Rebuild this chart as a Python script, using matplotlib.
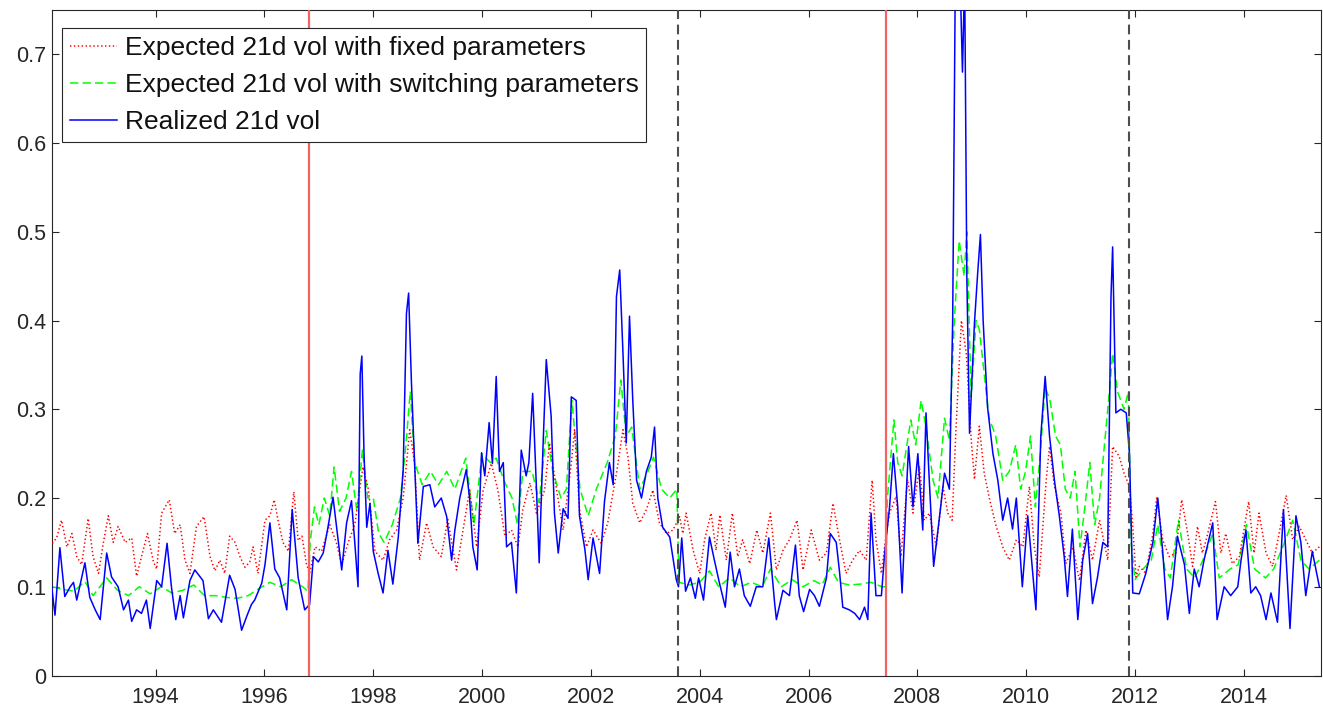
import numpy as np
import matplotlib
matplotlib.use('Agg')
import matplotlib.pyplot as plt

plt.rcParams['font.family'] = ['Liberation Sans', 'DejaVu Sans']
plt.rcParams['lines.scale_dashes'] = False

# realized 21d vol (decimal year, vol)
realized_t = [
    1992.09, 1992.15, 1992.24, 1992.33, 1992.43, 1992.49, 1992.55, 1992.70, 1992.79, 1992.89,
    1992.98, 1993.10, 1993.19, 1993.31, 1993.41, 1993.50, 1993.56, 1993.65, 1993.74, 1993.83,
    1993.90, 1994.02, 1994.11, 1994.21, 1994.29, 1994.37, 1994.45, 1994.51, 1994.63, 1994.72,
    1994.87, 1994.97, 1995.06, 1995.21, 1995.36, 1995.46, 1995.58, 1995.67, 1995.76, 1995.82,
    1995.95, 1996.01, 1996.10, 1996.19, 1996.28, 1996.41, 1996.51, 1996.62, 1996.74, 1996.83,
    1996.90, 1996.99, 1997.08, 1997.17, 1997.26, 1997.35, 1997.42, 1997.51, 1997.60, 1997.66,
    1997.72, 1997.76, 1997.79, 1997.83, 1997.88, 1997.94, 1998.00, 1998.09, 1998.18, 1998.27,
    1998.36, 1998.46, 1998.55, 1998.61, 1998.65, 1998.70, 1998.76, 1998.82, 1998.92, 1999.04,
    1999.13, 1999.25, 1999.35, 1999.44, 1999.50, 1999.59, 1999.71, 1999.77, 1999.83, 1999.91,
    1999.99, 2000.05, 2000.13, 2000.19, 2000.26, 2000.32, 2000.39, 2000.45, 2000.54, 2000.63,
    2000.72, 2000.81, 2000.86, 2000.93, 2001.00, 2001.05, 2001.12, 2001.18, 2001.27, 2001.33,
    2001.40, 2001.49, 2001.58, 2001.64, 2001.73, 2001.79, 2001.89, 2001.95, 2002.04, 2002.16,
    2002.25, 2002.34, 2002.41, 2002.47, 2002.53, 2002.59, 2002.65, 2002.71, 2002.77, 2002.84,
    2002.93, 2003.02, 2003.11, 2003.17, 2003.23, 2003.32, 2003.45, 2003.57, 2003.61, 2003.67,
    2003.74, 2003.83, 2003.92, 2003.98, 2004.07, 2004.18, 2004.27, 2004.36, 2004.47, 2004.56,
    2004.64, 2004.73, 2004.82, 2004.93, 2005.04, 2005.16, 2005.27, 2005.38, 2005.41, 2005.53,
    2005.65, 2005.76, 2005.83, 2005.91, 2006.02, 2006.11, 2006.20, 2006.33, 2006.40, 2006.51,
    2006.57, 2006.63, 2006.75, 2006.85, 2006.94, 2007.03, 2007.09, 2007.15, 2007.24, 2007.34,
    2007.40, 2007.49, 2007.56, 2007.64, 2007.72, 2007.80, 2007.84, 2007.92, 2008.01, 2008.10,
    2008.16, 2008.22, 2008.30, 2008.41, 2008.50, 2008.59, 2008.65, 2008.70, 2008.76, 2008.83,
    2008.87, 2008.91, 2008.96, 2009.05, 2009.11, 2009.16, 2009.21, 2009.29, 2009.39, 2009.48,
    2009.57, 2009.66, 2009.75, 2009.82, 2009.93, 2010.03, 2010.18, 2010.27, 2010.35, 2010.43,
    2010.52, 2010.61, 2010.70, 2010.76, 2010.85, 2010.95, 2011.04, 2011.13, 2011.22, 2011.31,
    2011.41, 2011.50, 2011.56, 2011.59, 2011.65, 2011.74, 2011.84, 2011.90, 2011.96, 2012.08,
    2012.20, 2012.33, 2012.42, 2012.51, 2012.60, 2012.69, 2012.78, 2012.91, 2013.00, 2013.09,
    2013.18, 2013.27, 2013.43, 2013.51, 2013.64, 2013.76, 2013.89, 2013.95, 2014.04, 2014.13,
    2014.22, 2014.31, 2014.41, 2014.50, 2014.62, 2014.73, 2014.85, 2014.96, 2015.05, 2015.14,
    2015.26, 2015.39,
]
realized_v = [
    0.100, 0.068, 0.144, 0.089, 0.100, 0.105, 0.085, 0.127, 0.088, 0.074,
    0.063, 0.138, 0.111, 0.100, 0.074, 0.085, 0.061, 0.074, 0.070, 0.085,
    0.053, 0.107, 0.100, 0.149, 0.100, 0.063, 0.090, 0.065, 0.107, 0.119,
    0.107, 0.064, 0.074, 0.060, 0.113, 0.097, 0.051, 0.066, 0.080, 0.085,
    0.104, 0.125, 0.172, 0.120, 0.110, 0.074, 0.187, 0.110, 0.074, 0.080,
    0.134, 0.128, 0.138, 0.168, 0.201, 0.155, 0.119, 0.172, 0.197, 0.150,
    0.100, 0.340, 0.360, 0.250, 0.167, 0.194, 0.140, 0.115, 0.093, 0.141,
    0.103, 0.156, 0.232, 0.408, 0.431, 0.333, 0.239, 0.149, 0.213, 0.215,
    0.190, 0.200, 0.179, 0.130, 0.164, 0.200, 0.232, 0.200, 0.145, 0.119,
    0.251, 0.225, 0.285, 0.239, 0.337, 0.230, 0.240, 0.145, 0.150, 0.093,
    0.254, 0.225, 0.240, 0.318, 0.210, 0.127, 0.258, 0.356, 0.292, 0.183,
    0.138, 0.188, 0.177, 0.314, 0.310, 0.180, 0.142, 0.108, 0.155, 0.115,
    0.196, 0.240, 0.215, 0.427, 0.457, 0.363, 0.262, 0.405, 0.310, 0.220,
    0.200, 0.230, 0.246, 0.280, 0.200, 0.167, 0.156, 0.108, 0.100, 0.155,
    0.095, 0.110, 0.087, 0.110, 0.085, 0.156, 0.130, 0.105, 0.077, 0.139,
    0.100, 0.120, 0.090, 0.078, 0.100, 0.100, 0.155, 0.080, 0.063, 0.096,
    0.090, 0.147, 0.090, 0.072, 0.097, 0.090, 0.078, 0.110, 0.160, 0.150,
    0.117, 0.077, 0.074, 0.070, 0.063, 0.077, 0.063, 0.183, 0.090, 0.090,
    0.138, 0.190, 0.250, 0.190, 0.093, 0.209, 0.258, 0.190, 0.250, 0.164,
    0.296, 0.220, 0.123, 0.180, 0.228, 0.210, 0.400, 0.800, 0.850, 0.680,
    0.790, 0.450, 0.273, 0.397, 0.454, 0.497, 0.400, 0.303, 0.250, 0.220,
    0.175, 0.200, 0.165, 0.200, 0.100, 0.180, 0.074, 0.270, 0.337, 0.270,
    0.220, 0.180, 0.134, 0.089, 0.165, 0.063, 0.130, 0.160, 0.081, 0.110,
    0.150, 0.145, 0.427, 0.483, 0.296, 0.300, 0.296, 0.250, 0.093, 0.092,
    0.115, 0.150, 0.200, 0.140, 0.063, 0.100, 0.157, 0.125, 0.070, 0.120,
    0.100, 0.130, 0.172, 0.063, 0.100, 0.090, 0.100, 0.130, 0.164, 0.093,
    0.100, 0.090, 0.063, 0.093, 0.060, 0.187, 0.053, 0.180, 0.150, 0.090,
    0.140, 0.100,
]

# expected 21d vol, regime-switching parameters
switching_t = [
    1992.10, 1992.30, 1992.50, 1992.70, 1992.85, 1993.10, 1993.30, 1993.50, 1993.70, 1993.90,
    1994.10, 1994.30, 1994.50, 1994.70, 1994.90, 1995.10, 1995.30, 1995.50, 1995.70, 1995.90,
    1996.10, 1996.30, 1996.50, 1996.70, 1996.80, 1996.84, 1996.92, 1997.00, 1997.10, 1997.20,
    1997.28, 1997.38, 1997.50, 1997.60, 1997.70, 1997.80, 1997.90, 1998.00, 1998.10, 1998.20,
    1998.35, 1998.50, 1998.60, 1998.68, 1998.76, 1998.90, 1999.05, 1999.20, 1999.35, 1999.50,
    1999.70, 1999.85, 2000.00, 2000.15, 2000.26, 2000.40, 2000.55, 2000.65, 2000.75, 2000.92,
    2001.05, 2001.18, 2001.30, 2001.45, 2001.55, 2001.65, 2001.80, 2001.95, 2002.10, 2002.30,
    2002.45, 2002.55, 2002.65, 2002.75, 2002.90, 2003.05, 2003.15, 2003.30, 2003.45, 2003.58,
    2003.62, 2003.80, 2004.00, 2004.18, 2004.35, 2004.55, 2004.75, 2004.95, 2005.15, 2005.30,
    2005.50, 2005.70, 2005.90, 2006.10, 2006.25, 2006.40, 2006.55, 2006.75, 2006.95, 2007.15,
    2007.35, 2007.42, 2007.45, 2007.57, 2007.64, 2007.72, 2007.88, 2007.97, 2008.07, 2008.16,
    2008.29, 2008.38, 2008.50, 2008.59, 2008.68, 2008.77, 2008.86, 2008.91, 2008.99, 2009.08,
    2009.14, 2009.23, 2009.32, 2009.44, 2009.57, 2009.69, 2009.81, 2009.90, 2009.99, 2010.08,
    2010.17, 2010.26, 2010.35, 2010.44, 2010.54, 2010.63, 2010.72, 2010.81, 2010.90, 2010.99,
    2011.08, 2011.17, 2011.26, 2011.35, 2011.44, 2011.53, 2011.59, 2011.68, 2011.80, 2011.88,
    2011.93, 2012.00, 2012.15, 2012.30, 2012.42, 2012.55, 2012.65, 2012.80, 2012.95, 2013.10,
    2013.25, 2013.43, 2013.55, 2013.75, 2013.90, 2014.05, 2014.20, 2014.40, 2014.55, 2014.75,
    2014.90, 2015.05, 2015.20, 2015.39,
]
switching_v = [
    0.100, 0.097, 0.095, 0.106, 0.090, 0.110, 0.096, 0.090, 0.100, 0.092,
    0.100, 0.093, 0.096, 0.102, 0.090, 0.090, 0.088, 0.087, 0.090, 0.098,
    0.105, 0.100, 0.108, 0.100, 0.095, 0.150, 0.190, 0.170, 0.200, 0.180,
    0.235, 0.185, 0.200, 0.230, 0.185, 0.254, 0.200, 0.200, 0.160, 0.150,
    0.170, 0.200, 0.260, 0.320, 0.240, 0.215, 0.230, 0.215, 0.230, 0.210,
    0.245, 0.170, 0.250, 0.240, 0.245, 0.220, 0.200, 0.170, 0.230, 0.230,
    0.195, 0.276, 0.230, 0.200, 0.210, 0.310, 0.210, 0.180, 0.210, 0.240,
    0.270, 0.333, 0.270, 0.280, 0.210, 0.230, 0.246, 0.210, 0.200, 0.210,
    0.105, 0.102, 0.105, 0.118, 0.100, 0.110, 0.100, 0.105, 0.100, 0.120,
    0.100, 0.108, 0.100, 0.107, 0.102, 0.122, 0.105, 0.102, 0.103, 0.105,
    0.100, 0.100, 0.200, 0.288, 0.240, 0.225, 0.288, 0.260, 0.310, 0.280,
    0.220, 0.200, 0.290, 0.265, 0.400, 0.490, 0.450, 0.500, 0.314, 0.400,
    0.390, 0.340, 0.290, 0.270, 0.220, 0.230, 0.260, 0.210, 0.230, 0.270,
    0.190, 0.250, 0.325, 0.310, 0.270, 0.260, 0.210, 0.200, 0.230, 0.145,
    0.190, 0.240, 0.170, 0.200, 0.260, 0.320, 0.363, 0.320, 0.300, 0.320,
    0.150, 0.108, 0.120, 0.130, 0.170, 0.120, 0.110, 0.175, 0.120, 0.110,
    0.130, 0.160, 0.110, 0.120, 0.125, 0.170, 0.120, 0.110, 0.120, 0.150,
    0.175, 0.130, 0.120, 0.130,
]

# expected 21d vol, fixed parameters
fixed_t = [
    1992.10, 1992.18, 1992.27, 1992.37, 1992.46, 1992.55, 1992.64, 1992.76, 1992.85, 1992.95,
    1993.04, 1993.13, 1993.22, 1993.31, 1993.44, 1993.56, 1993.65, 1993.74, 1993.85, 1993.96,
    1994.02, 1994.11, 1994.25, 1994.35, 1994.45, 1994.54, 1994.63, 1994.75, 1994.89, 1995.00,
    1995.09, 1995.18, 1995.27, 1995.36, 1995.46, 1995.55, 1995.64, 1995.73, 1995.79, 1995.88,
    1996.01, 1996.10, 1996.18, 1996.25, 1996.34, 1996.44, 1996.54, 1996.62, 1996.69, 1996.77,
    1996.83, 1996.93, 1997.05, 1997.20, 1997.32, 1997.42, 1997.54, 1997.66, 1997.81, 1997.91,
    1998.03, 1998.18, 1998.30, 1998.43, 1998.55, 1998.67, 1998.76, 1998.85, 1998.98, 1999.10,
    1999.25, 1999.37, 1999.53, 1999.65, 1999.77, 1999.90, 2000.02, 2000.17, 2000.29, 2000.42,
    2000.54, 2000.66, 2000.75, 2000.88, 2001.00, 2001.15, 2001.24, 2001.37, 2001.49, 2001.64,
    2001.70, 2001.79, 2001.92, 2002.04, 2002.19, 2002.31, 2002.47, 2002.59, 2002.68, 2002.77,
    2002.90, 2003.02, 2003.14, 2003.26, 2003.39, 2003.51, 2003.63, 2003.69, 2003.75, 2003.88,
    2004.00, 2004.09, 2004.21, 2004.30, 2004.37, 2004.49, 2004.60, 2004.70, 2004.79, 2004.92,
    2005.05, 2005.16, 2005.30, 2005.41, 2005.53, 2005.65, 2005.79, 2005.90, 2006.05, 2006.20,
    2006.33, 2006.45, 2006.57, 2006.69, 2006.81, 2006.94, 2007.06, 2007.17, 2007.24, 2007.34,
    2007.43, 2007.49, 2007.61, 2007.70, 2007.82, 2007.92, 2008.04, 2008.13, 2008.22, 2008.35,
    2008.47, 2008.56, 2008.64, 2008.71, 2008.81, 2008.90, 2008.99, 2009.05, 2009.14, 2009.23,
    2009.33, 2009.45, 2009.57, 2009.69, 2009.82, 2009.94, 2010.06, 2010.15, 2010.24, 2010.37,
    2010.43, 2010.52, 2010.64, 2010.73, 2010.86, 2010.98, 2011.10, 2011.22, 2011.35, 2011.50,
    2011.59, 2011.71, 2011.80, 2011.90, 2011.96, 2012.02, 2012.08, 2012.20, 2012.33, 2012.40,
    2012.51, 2012.63, 2012.75, 2012.86, 2012.97, 2013.06, 2013.15, 2013.24, 2013.31, 2013.48,
    2013.58, 2013.67, 2013.79, 2013.92, 2014.09, 2014.19, 2014.28, 2014.41, 2014.53, 2014.65,
    2014.78, 2014.90, 2015.02, 2015.14, 2015.26, 2015.39,
]
fixed_v = [
    0.149, 0.155, 0.175, 0.145, 0.160, 0.134, 0.125, 0.177, 0.134, 0.115,
    0.150, 0.180, 0.150, 0.168, 0.150, 0.155, 0.112, 0.134, 0.160, 0.128,
    0.120, 0.183, 0.198, 0.160, 0.170, 0.130, 0.115, 0.168, 0.179, 0.134,
    0.118, 0.130, 0.115, 0.157, 0.150, 0.134, 0.122, 0.128, 0.145, 0.115,
    0.175, 0.180, 0.198, 0.175, 0.150, 0.140, 0.207, 0.152, 0.157, 0.126,
    0.115, 0.145, 0.140, 0.170, 0.150, 0.125, 0.150, 0.170, 0.235, 0.210,
    0.140, 0.130, 0.153, 0.164, 0.200, 0.277, 0.239, 0.130, 0.172, 0.145,
    0.134, 0.176, 0.119, 0.164, 0.209, 0.145, 0.209, 0.239, 0.209, 0.157,
    0.164, 0.145, 0.187, 0.217, 0.183, 0.209, 0.262, 0.209, 0.164, 0.239,
    0.277, 0.187, 0.145, 0.164, 0.149, 0.172, 0.228, 0.277, 0.247, 0.194,
    0.172, 0.187, 0.209, 0.172, 0.160, 0.164, 0.179, 0.160, 0.183, 0.141,
    0.115, 0.153, 0.183, 0.141, 0.181, 0.130, 0.183, 0.134, 0.153, 0.126,
    0.164, 0.138, 0.183, 0.119, 0.141, 0.153, 0.175, 0.119, 0.164, 0.130,
    0.138, 0.194, 0.153, 0.115, 0.130, 0.141, 0.130, 0.220, 0.153, 0.115,
    0.160, 0.183, 0.202, 0.134, 0.221, 0.183, 0.236, 0.175, 0.183, 0.145,
    0.213, 0.183, 0.175, 0.277, 0.400, 0.363, 0.266, 0.221, 0.281, 0.228,
    0.198, 0.168, 0.145, 0.130, 0.153, 0.145, 0.213, 0.145, 0.111, 0.221,
    0.258, 0.213, 0.183, 0.126, 0.145, 0.107, 0.164, 0.130, 0.175, 0.130,
    0.258, 0.247, 0.228, 0.213, 0.168, 0.111, 0.123, 0.115, 0.160, 0.201,
    0.153, 0.134, 0.138, 0.198, 0.160, 0.123, 0.168, 0.138, 0.153, 0.196,
    0.138, 0.160, 0.126, 0.134, 0.196, 0.138, 0.183, 0.138, 0.123, 0.160,
    0.203, 0.153, 0.168, 0.153, 0.138, 0.145,
]

# regime change dates
switch_up = [1996.82, 2007.43]
switch_down = [2003.61, 2011.90]

year_ticks = [1994, 1996, 1998, 2000, 2002, 2004, 2006, 2008, 2010, 2012, 2014]
vol_ticks = [0, 0.1, 0.2, 0.3, 0.4, 0.5, 0.6, 0.7]

W, H = 1323, 710
fig = plt.figure(figsize=(W / 100, H / 100), dpi=100)
ax = fig.add_axes([52 / W, 1 - 675.5 / H, 1269 / W, 665.5 / H])

ax.plot(fixed_t, fixed_v, color='#ff0000', lw=1.1, ls=(0, (1.0, 1.8)),
        label='Expected 21d vol with fixed parameters', zorder=3)
ax.plot(switching_t, switching_v, color='#00ff00', lw=1.1, ls=(0, (6, 3)),
        label='Expected 21d vol with switching parameters', zorder=2)
ax.plot(realized_t, realized_v, color='#0000ff', lw=1.1,
        label='Realized 21d vol', zorder=4)

for d in switch_up:
    ax.axvline(d, color='#f26464', lw=1.6, zorder=5)
for d in switch_down:
    ax.axvline(d, color='#4d4d4d', lw=1.5, ls=(0, (7, 4)), zorder=5)

ax.set_xlim(1992.095, 2015.42)
ax.set_ylim(0, 0.75)
ax.set_xticks(year_ticks)
ax.set_xticklabels([str(y) for y in year_ticks])
ax.set_yticks(vol_ticks)
ax.set_yticklabels(['0'] + ['%.1f' % v for v in vol_ticks[1:]])

for s in ax.spines.values():
    s.set_color('#262626')
    s.set_linewidth(0.8)
ax.tick_params(direction='in', length=5, width=0.8, color='#262626',
               labelcolor='#262626', labelsize=15.5, top=True, right=True)
ax.tick_params(axis='x', pad=8)
ax.tick_params(axis='y', pad=4)

leg = ax.legend(loc='upper left', bbox_to_anchor=(62 / W, 1 - 28 / H),
                bbox_transform=fig.transFigure, borderaxespad=0,
                fontsize=19, fancybox=False, framealpha=1, edgecolor='#262626',
                handlelength=1.8, handletextpad=0.27, borderpad=0.3,
                labelspacing=0.5)
leg.get_frame().set_linewidth(0.8)
for t in leg.get_texts():
    t.set_color('#111111')
leg.set_zorder(10)

fig.savefig('out.png', dpi=100)
